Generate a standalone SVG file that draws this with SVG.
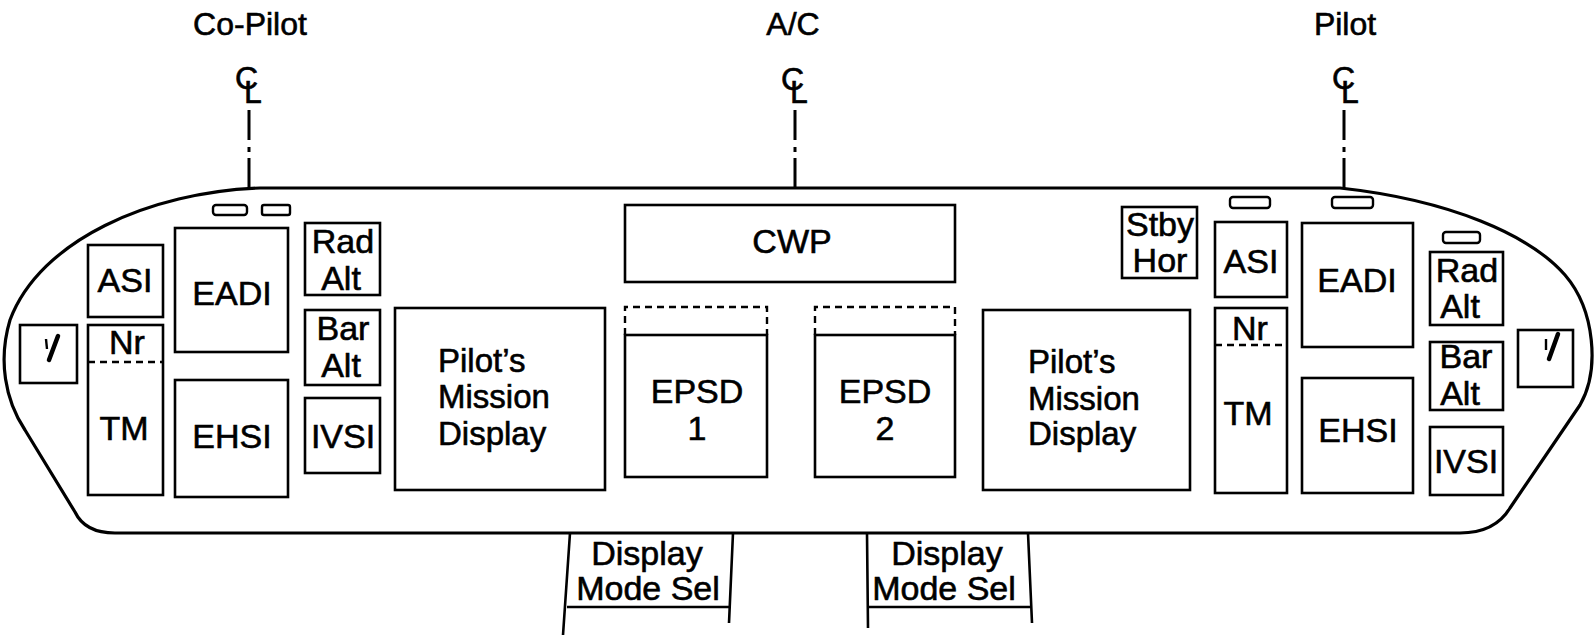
<svg xmlns="http://www.w3.org/2000/svg" width="1595" height="635" viewBox="0 0 1595 635">
<style>
  .box{fill:none;stroke:#000;stroke-width:2.6}
  .dash{fill:none;stroke:#000;stroke-width:2.4;stroke-dasharray:7 5}
  .sm{fill:none;stroke:#000;stroke-width:2.4}
  .outline{fill:#fff;stroke:#000;stroke-width:3.2;stroke-linejoin:round}
  .cl{fill:none;stroke:#000;stroke-width:3}
  text{font-family:"Liberation Sans",Arial,sans-serif;fill:#000;stroke:#000;stroke-width:0.6}
  .t{font-size:34px;text-anchor:middle}
  .tl{font-size:33px;text-anchor:start}
  .h{font-size:32px;text-anchor:middle}
  .c{font-size:32px}
  .hand{fill:none;stroke:#000;stroke-width:4.5;stroke-linecap:round}
  .tick{fill:none;stroke:#000;stroke-width:2.4}
</style>
<rect width="1595" height="635" fill="#fff"/>

<g id="titles">
  <text class="h" x="250" y="35">Co-Pilot</text>
  <text class="h" x="793" y="35">A/C</text>
  <text class="h" x="1345" y="35">Pilot</text>
  <text class="c" x="235" y="89">C<tspan dx="-14" dy="14">L</tspan></text>
  <text class="c" x="781" y="90">C<tspan dx="-14" dy="13">L</tspan></text>
  <text class="c" x="1332" y="89">C<tspan dx="-14" dy="14">L</tspan></text>
</g>

<g id="connectors">
  <path class="cl" d="M249 110V140M249 147V152M249 158V188"/>
  <path class="cl" d="M795 110V140M795 147V152M795 158V188"/>
  <path class="cl" d="M1344 110V140M1344 147V152M1344 158V188"/>
</g>

<g id="panel">
  <path class="outline" d="M260 188 L1340 188 C1450 200,1530 235,1565 275 C1595 310,1600 370,1580 405 L1510 508 Q1495 533,1460 533 L115 533 Q85 533,75 512 L25 430 C5 400,-2 360,10 320 C40 240,150 192,260 188 Z"/>
</g>

<g id="dms1">
  <path class="box" d="M570 533L563 635M733 533L729 623M567 607H731"/>
  <text class="t" x="647" y="565">Display</text>
  <text class="t" x="648" y="600">Mode Sel</text>
</g>
<g id="dms2">
  <path class="box" d="M867 533L868 628M1028 533L1032 623M867 607H1030"/>
  <text class="t" x="947" y="565">Display</text>
  <text class="t" x="944" y="600">Mode Sel</text>
</g>

<g id="cp-lights">
  <rect class="sm" x="213" y="205" width="34" height="10" rx="3"/>
  <rect class="sm" x="262" y="205" width="28" height="10" rx="2"/>
</g>
<g id="cp-clock">
  <rect class="box" x="20" y="325" width="57" height="58"/>
  <path class="hand" d="M58 336L49 360"/>
  <path class="tick" d="M46 339L47 349"/>
</g>
<g id="cp-asi">
  <rect class="box" x="88" y="245" width="75" height="72"/>
  <text class="t" x="125" y="292">ASI</text>
</g>
<g id="cp-tm">
  <rect class="box" x="88" y="325" width="75" height="170"/>
  <path class="dash" d="M88 362H163"/>
  <text class="t" x="127" y="354">Nr</text>
  <text class="t" x="124" y="440">TM</text>
</g>
<g id="cp-eadi">
  <rect class="box" x="175" y="228" width="113" height="124"/>
  <text class="t" x="232" y="305">EADI</text>
</g>
<g id="cp-ehsi">
  <rect class="box" x="175" y="380" width="113" height="117"/>
  <text class="t" x="232" y="448">EHSI</text>
</g>
<g id="cp-radalt">
  <rect class="box" x="305" y="223" width="75" height="72"/>
  <text class="t" x="343" y="253">Rad</text>
  <text class="t" x="341" y="290">Alt</text>
</g>
<g id="cp-baralt">
  <rect class="box" x="305" y="310" width="75" height="75"/>
  <text class="t" x="343" y="340">Bar</text>
  <text class="t" x="341" y="377">Alt</text>
</g>
<g id="cp-ivsi">
  <rect class="box" x="305" y="398" width="75" height="75"/>
  <text class="t" x="343" y="448">IVSI</text>
</g>
<g id="cp-pmd">
  <rect class="box" x="395" y="308" width="210" height="182"/>
  <text class="tl" x="438" y="372">Pilot’s</text>
  <text class="tl" x="438" y="408">Mission</text>
  <text class="tl" x="438" y="445">Display</text>
</g>

<g id="cwp">
  <rect class="box" x="625" y="205" width="330" height="77"/>
  <text class="t" x="792" y="253">CWP</text>
</g>
<g id="epsd1">
  <path class="dash" d="M625 335V307H767V335"/>
  <rect class="box" x="625" y="335" width="142" height="142"/>
  <text class="t" x="697" y="403">EPSD</text>
  <text class="t" x="697" y="440">1</text>
</g>
<g id="epsd2">
  <path class="dash" d="M815 335V307H955V335"/>
  <rect class="box" x="815" y="335" width="140" height="142"/>
  <text class="t" x="885" y="403">EPSD</text>
  <text class="t" x="885" y="440">2</text>
</g>

<g id="p-pmd">
  <rect class="box" x="983" y="310" width="207" height="180"/>
  <text class="tl" x="1028" y="373">Pilot’s</text>
  <text class="tl" x="1028" y="410">Mission</text>
  <text class="tl" x="1028" y="445">Display</text>
</g>
<g id="p-stby">
  <rect class="box" x="1122" y="207" width="75" height="71"/>
  <text class="t" x="1160" y="236">Stby</text>
  <text class="t" x="1160" y="272">Hor</text>
</g>
<g id="p-lights">
  <rect class="sm" x="1230" y="197" width="40" height="11" rx="3"/>
  <rect class="sm" x="1332" y="197" width="41" height="11" rx="3"/>
  <rect class="sm" x="1443" y="232" width="37" height="11" rx="3"/>
</g>
<g id="p-asi">
  <rect class="box" x="1215" y="222" width="72" height="75"/>
  <text class="t" x="1251" y="273">ASI</text>
</g>
<g id="p-tm">
  <rect class="box" x="1215" y="308" width="72" height="185"/>
  <path class="dash" d="M1215 345H1287"/>
  <text class="t" x="1250" y="340">Nr</text>
  <text class="t" x="1248" y="425">TM</text>
</g>
<g id="p-eadi">
  <rect class="box" x="1302" y="223" width="111" height="124"/>
  <text class="t" x="1357" y="292">EADI</text>
</g>
<g id="p-ehsi">
  <rect class="box" x="1302" y="378" width="111" height="115"/>
  <text class="t" x="1358" y="442">EHSI</text>
</g>
<g id="p-radalt">
  <rect class="box" x="1430" y="252" width="73" height="73"/>
  <text class="t" x="1467" y="282">Rad</text>
  <text class="t" x="1460" y="318">Alt</text>
</g>
<g id="p-baralt">
  <rect class="box" x="1430" y="342" width="73" height="68"/>
  <text class="t" x="1466" y="368">Bar</text>
  <text class="t" x="1460" y="405">Alt</text>
</g>
<g id="p-ivsi">
  <rect class="box" x="1430" y="427" width="73" height="68"/>
  <text class="t" x="1466" y="473">IVSI</text>
</g>
<g id="p-clock">
  <rect class="box" x="1518" y="330" width="55" height="57"/>
  <path class="hand" d="M1558 334L1549 359"/>
  <path class="tick" d="M1546 339L1546 350"/>
</g>
</svg>
